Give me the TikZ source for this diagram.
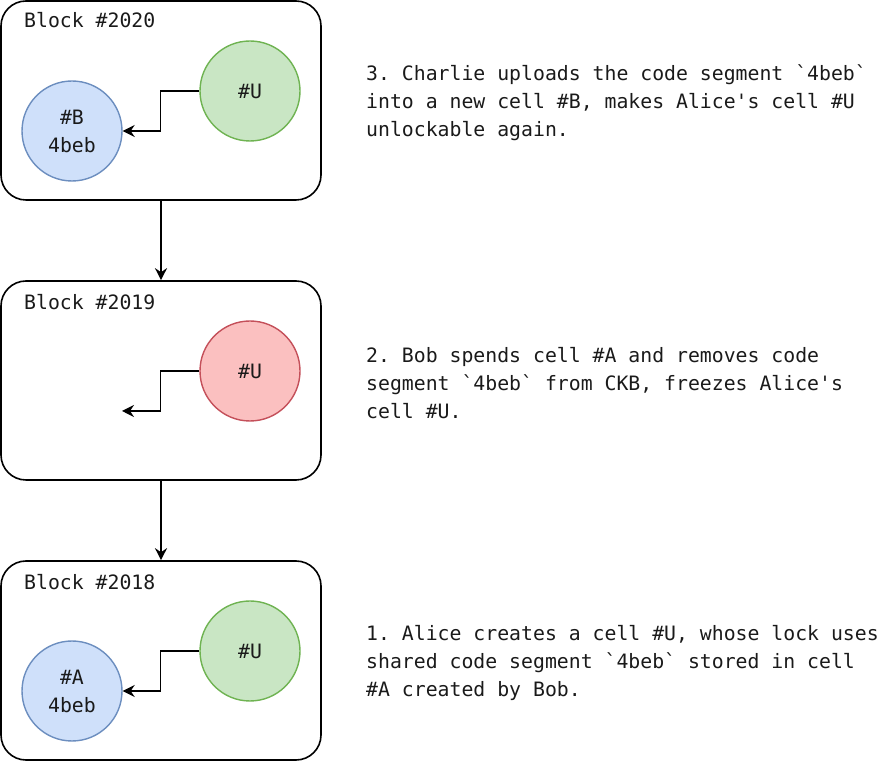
\documentclass[tikz,border=0pt]{standalone}
\usepackage{fontspec}
\setmonofont{DejaVu Sans Mono}
\usetikzlibrary{arrows.meta,positioning}
\definecolor{greenfill}{HTML}{C9E6C4}
\definecolor{greenline}{HTML}{6FB352}
\definecolor{bluefill}{HTML}{CFE0FA}
\definecolor{blueline}{HTML}{6C8EBF}
\definecolor{redfill}{HTML}{FBC0C0}
\definecolor{redline}{HTML}{C4505A}
\definecolor{ink}{HTML}{1A1A1A}

\begin{document}
\begin{tikzpicture}[x=1pt, y=1pt,
        every node/.style={font=\ttfamily\fontsize{19.8}{28}\selectfont, text=ink},
        block/.style={rectangle, rounded corners=25pt, draw=black, line width=1.6pt, minimum width=320pt, minimum height=199pt},
        blocklabel/.style={anchor=west, inner sep=0pt},
        cellok/.style={circle, draw=greenline, fill=greenfill, line width=1.4pt, minimum size=100pt, inner sep=0pt},
        cellcode/.style={circle, draw=blueline, fill=bluefill, line width=1.4pt, minimum size=100pt, inner sep=0pt, align=center},
        cellfrozen/.style={circle, draw=redline, fill=redfill, line width=1.4pt, minimum size=100pt, inner sep=0pt},
        link/.style={-{Stealth[length=12pt,width=12pt,inset=4pt]}, line width=1.6pt},
        note/.style={anchor=west, align=left, inner sep=0pt}
    ]
        \useasboundingbox (0,0) rectangle (882,762);

        % Blocks
        \node[block] (blk2020) at (161,661.5) {};
        \node[block] (blk2019) at (161,381.5) {};
        \node[block] (blk2018) at (161,101.5) {};
        \node[blocklabel] (lbl2020) at (24,742) {Block \#2020};
        \node[blocklabel] (lbl2019) at (24,460) {Block \#2019};
        \node[blocklabel] (lbl2018) at (24,180) {Block \#2018};

        % Chain
        \draw[link] (blk2020.south) -- (blk2019.north);
        \draw[link] (blk2019.south) -- (blk2018.north);

        % Cells
        \node[cellok] (u2020) at (250,671) {\#U};
        \node[cellcode] (b2020) at (72,631) {\#B\\4beb};
        \node[cellfrozen] (u2019) at (250,391) {\#U};
        \coordinate (gone2019) at (122,351);
        \node[cellok] (u2018) at (250,111) {\#U};
        \node[cellcode] (a2018) at (72,71) {\#A\\4beb};

        % Code references
        \draw[link] (u2020.west) -- ++(-39,0) |- (b2020.east);
        \draw[link] (u2019.west) -- ++(-39,0) |- (gone2019);
        \draw[link] (u2018.west) -- ++(-39,0) |- (a2018.east);

        % Notes
        \node[note] (note2020) at (366,659) {3. Charlie uploads the code segment `4beb`\\into a new cell \#B, makes Alice's cell \#U\\unlockable again.};
        \node[note] (note2019) at (366,379) {2. Bob spends cell \#A and removes code\\segment `4beb` from CKB, freezes Alice's\\cell \#U.};
        \node[note] (note2018) at (366,99) {1. Alice creates a cell \#U, whose lock uses\\shared code segment `4beb` stored in cell\\\#A created by Bob.};
    \end{tikzpicture}
\end{document}
